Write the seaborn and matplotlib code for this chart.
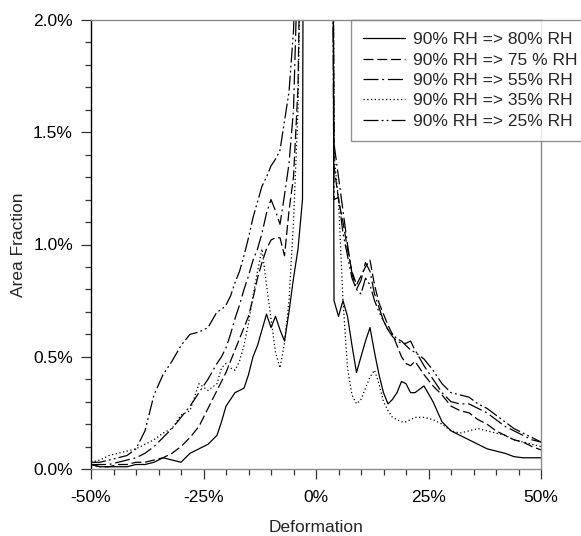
import matplotlib
matplotlib.use("Agg")
import matplotlib.pyplot as plt
from matplotlib.ticker import MultipleLocator, FuncFormatter
import numpy as np
import pandas as pd
import seaborn as sns

# Deformation grid (%): coarse in the tails, 1 % steps around the central peak
deformation = (
    [-50, -48, -46, -44, -42, -40, -38, -36, -34, -32, -30, -28, -26, -24, -22]
    + list(range(-21, 22))
    + [22, 24, 26, 28, 30, 32, 34, 36, 38, 40, 42, 44, 46, 48, 50]
)

# Area fraction (%) for each humidity step
rh80 = ([0.02, 0.01, 0.01, 0.01, 0.01, 0.02, 0.02, 0.03, 0.05, 0.04, 0.03, 0.07, 0.09, 0.11, 0.15]
        + [0.21, 0.28, 0.31, 0.34, 0.35, 0.36, 0.42, 0.50, 0.55, 0.62, 0.69, 0.63, 0.68, 0.62, 0.57,
           0.70, 0.85, 0.98, 1.20, 9.0, 14.0, 16.0, 14.0, 11.0, 9.0, 0.75, 0.68, 0.75, 0.68, 0.55,
           0.43, 0.50, 0.57, 0.63, 0.52, 0.42, 0.34, 0.29, 0.31, 0.34, 0.39, 0.38, 0.34]
        + [0.34, 0.37, 0.30, 0.21, 0.17, 0.15, 0.13, 0.11, 0.09, 0.08, 0.07, 0.055, 0.05, 0.05, 0.05])

rh75 = ([0.02, 0.01, 0.01, 0.02, 0.02, 0.03, 0.03, 0.04, 0.05, 0.07, 0.10, 0.14, 0.19, 0.27, 0.35]
        + [0.39, 0.43, 0.48, 0.53, 0.58, 0.63, 0.68, 0.76, 0.85, 0.92, 0.98, 1.02, 1.03, 1.03, 0.95,
           1.15, 1.30, 1.70, 3.0, 8.0, 14.0, 16.0, 14.0, 10.0, 7.0, 1.35, 1.20, 1.10, 0.98, 0.88,
           0.82, 0.86, 0.90, 0.93, 0.82, 0.74, 0.69, 0.64, 0.60, 0.55, 0.50, 0.47, 0.46]
        + [0.48, 0.42, 0.37, 0.33, 0.28, 0.26, 0.25, 0.22, 0.20, 0.17, 0.15, 0.13, 0.12, 0.10, 0.085])

rh55 = ([0.02, 0.02, 0.02, 0.03, 0.04, 0.05, 0.07, 0.10, 0.14, 0.18, 0.23, 0.28, 0.34, 0.40, 0.47]
        + [0.50, 0.54, 0.60, 0.67, 0.73, 0.80, 0.86, 0.93, 0.98, 1.05, 1.14, 1.20, 1.15, 1.09, 1.22,
           1.36, 1.60, 2.30, 4.5, 7.0, 13.0, 15.0, 13.0, 9.0, 6.0, 1.45, 1.30, 1.15, 1.00, 0.87,
           0.80, 0.84, 0.92, 0.88, 0.78, 0.72, 0.66, 0.62, 0.59, 0.57, 0.56, 0.56, 0.57]
        + [0.53, 0.46, 0.40, 0.34, 0.30, 0.29, 0.29, 0.27, 0.25, 0.22, 0.19, 0.17, 0.15, 0.13, 0.12])

rh35 = ([0.03, 0.04, 0.06, 0.07, 0.08, 0.09, 0.11, 0.13, 0.16, 0.18, 0.24, 0.26, 0.38, 0.35, 0.38]
        + [0.45, 0.47, 0.45, 0.44, 0.48, 0.55, 0.65, 0.77, 0.88, 0.98, 0.82, 0.67, 0.52, 0.45, 0.56,
           0.75, 1.10, 1.60, 3.0, 8.0, 14.0, 16.0, 14.0, 10.0, 8.0, 1.40, 1.20, 0.75, 0.45, 0.33,
           0.29, 0.31, 0.36, 0.41, 0.44, 0.38, 0.30, 0.26, 0.23, 0.22, 0.21, 0.21, 0.22]
        + [0.23, 0.23, 0.22, 0.20, 0.17, 0.16, 0.17, 0.18, 0.17, 0.16, 0.15, 0.13, 0.12, 0.11, 0.10])

rh25 = ([0.03, 0.03, 0.04, 0.05, 0.06, 0.09, 0.17, 0.33, 0.42, 0.48, 0.55, 0.60, 0.61, 0.63, 0.70]
        + [0.71, 0.73, 0.77, 0.83, 0.88, 0.95, 1.03, 1.12, 1.19, 1.26, 1.30, 1.35, 1.38, 1.42, 1.55,
           1.68, 1.95, 2.60, 4.0, 6.0, 12.0, 14.0, 12.0, 8.0, 5.0, 1.20, 1.21, 1.05, 0.95, 0.85,
           0.80, 0.78, 0.85, 0.82, 0.75, 0.70, 0.66, 0.62, 0.60, 0.58, 0.57, 0.55, 0.53]
        + [0.52, 0.49, 0.44, 0.38, 0.34, 0.33, 0.32, 0.29, 0.27, 0.24, 0.21, 0.18, 0.16, 0.14, 0.12])

labels = ["90% RH => 80% RH", "90% RH => 75 % RH", "90% RH => 55% RH",
          "90% RH => 35% RH", "90% RH => 25% RH"]
series = [rh80, rh75, rh55, rh35, rh25]

df = pd.concat(
    [pd.DataFrame({"Deformation": deformation, "Area": vals, "Step": lab})
     for lab, vals in zip(labels, series)],
    ignore_index=True,
)

sns.set_style("ticks")
plt.rcParams["font.family"] = ["Liberation Sans", "DejaVu Sans"]
FS = 12.5

fig = plt.figure(figsize=(5.81, 5.36), dpi=100)
ax = fig.add_axes([91 / 581, (536 - 469) / 536, 450 / 581, 449 / 536])

dash_styles = {
    labels[0]: "",
    labels[1]: (8, 3),
    labels[2]: (12, 3, 1.5, 3),
    labels[3]: (1, 2),
    labels[4]: (12, 2.5, 1.5, 2.5, 1.5, 2.5),
}

sns.lineplot(data=df, x="Deformation", y="Area", hue="Step", style="Step",
             hue_order=labels, style_order=labels,
             palette=["black"] * 5, dashes=dash_styles, linewidth=0.9,
             ax=ax, legend=False, sort=False)

ax.set_xlim(-50, 50)
ax.set_ylim(0, 2.0)
ax.xaxis.set_major_locator(MultipleLocator(25))
ax.xaxis.set_minor_locator(MultipleLocator(5))
ax.yaxis.set_major_locator(MultipleLocator(0.5))
ax.yaxis.set_minor_locator(MultipleLocator(0.1))
ax.xaxis.set_major_formatter(FuncFormatter(lambda v, p: f"{v:.0f}%"))
ax.yaxis.set_major_formatter(FuncFormatter(lambda v, p: f"{v:.1f}%"))
ax.tick_params(which="both", direction="out", colors="#333333", labelcolor="black",
               labelsize=FS, width=0.9)
ax.tick_params(which="major", length=7)
ax.tick_params(which="minor", length=4.3)
ax.tick_params(axis="x", which="major", pad=8)
ax.tick_params(axis="y", which="major", pad=6)

for side in ["top", "right", "bottom"]:
    ax.spines[side].set_visible(True)
    ax.spines[side].set_color("#8a8a8a")
    ax.spines[side].set_linewidth(1.0)
ax.spines["left"].set_color("black")
ax.spines["left"].set_linewidth(1.0)

ax.set_xlabel("Deformation", fontsize=FS)
ax.set_ylabel("Area Fraction", fontsize=FS)
ax.xaxis.set_label_coords(0.5, (469 - 520) / 449)
ax.yaxis.set_label_coords((26 - 91) / 450, 0.5)

handles = [plt.Line2D([], [], color="black", lw=0.9,
                      linestyle=(0, dash_styles[l]) if dash_styles[l] else "-")
           for l in labels]
leg = fig.legend(handles, labels, loc="upper left",
                 bbox_to_anchor=(351 / 581, 1 - 20 / 536), borderaxespad=0,
                 frameon=True, fancybox=False, fontsize=FS,
                 handlelength=2.4, handletextpad=0.45, labelspacing=0.3,
                 borderpad=0.7)
leg.get_frame().set_edgecolor("#777777")
leg.get_frame().set_linewidth(1.0)

fig.savefig("out.png", dpi=100)
